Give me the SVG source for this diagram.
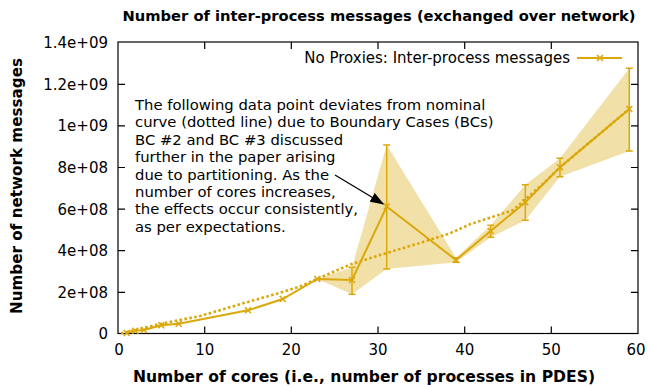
<svg xmlns="http://www.w3.org/2000/svg" width="650" height="387" viewBox="0 0 650 387">
<style>
.t{font-family:"DejaVu Sans",sans-serif;font-size:15px;fill:#000}
.b{font-family:"DejaVu Sans",sans-serif;font-size:14.7px;font-weight:bold;fill:#000}
.tick{stroke:#000;stroke-width:1.2;fill:none}
.data{stroke:#dba80a;stroke-width:2;fill:none}
.err{stroke:#dba80a;stroke-width:1.5;fill:none}
.dot{stroke:#dba80a;stroke-width:2.6;fill:none;stroke-dasharray:2.6 2.4}
</style>
<defs>
<path id="xm" d="M-3,-3L3,3M-3,3L3,-3" stroke="#dba80a" stroke-width="1.6"/>
<marker id="ah" markerWidth="14" markerHeight="10" refX="13" refY="5" orient="auto" markerUnits="userSpaceOnUse">
<path d="M0,0L14,5L0,10z" fill="#000"/>
</marker>
</defs>
<rect width="650" height="387" fill="#fff"/>
<g id="title"><text class="b" x="379" y="21" text-anchor="middle">Number of inter-process messages (exchanged over network)</text></g>
<g id="band"><polygon fill="#f2e0a9" points="317.3,279 352,267.3 386.7,145 456,257.7 490.7,225.3 525.3,184.7 560,158.3 629.3,68.3 629.3,151 560,176.7 525.3,220.3 490.7,237.3 456,262.3 386.7,269 352,294.3 317.3,279"/></g>
<g id="axes">
<rect x="118" y="42" width="520" height="291.5" class="tick"/>
<path class="tick" d="M118,292.3h7M118,250.7h7M118,209.1h7M118,167.5h7M118,125.9h7M118,84.3h7M638,292.3h-7M638,250.7h-7M638,209.1h-7M638,167.5h-7M638,125.9h-7M638,84.3h-7M204.7,333.5v-7M291.3,333.5v-7M378,333.5v-7M464.7,333.5v-7M551.3,333.5v-7M204.7,42v7M291.3,42v7M378,42v7M464.7,42v7M551.3,42v7"/>
<g class="t" text-anchor="end">
<text x="108" y="339">0</text>
<text x="108" y="297.5">2e+08</text>
<text x="108" y="256">4e+08</text>
<text x="108" y="214.5">6e+08</text>
<text x="108" y="173">8e+08</text>
<text x="108" y="131">1e+09</text>
<text x="108" y="89.5">1.2e+09</text>
<text x="108" y="48">1.4e+09</text>
</g>
<g class="t" text-anchor="middle">
<text x="119" y="355">0</text>
<text x="204.7" y="355">10</text>
<text x="291.3" y="355">20</text>
<text x="378" y="355">30</text>
<text x="464.7" y="355">40</text>
<text x="551.3" y="355">50</text>
<text x="636" y="355">60</text>
</g>
<text class="b" x="364" y="382" text-anchor="middle" style="font-size:15.6px">Number of cores (i.e., number of processes in PDES)</text>
<text class="b" transform="translate(22,186) rotate(-90)" text-anchor="middle" style="font-size:15.2px">Number of network messages</text>
</g>
<g id="connectors">
<polyline class="dot" points="121,333.5 160,324 200,316 243.3,303.3 280,292.7 300,286.5 330,273.3 351.7,264 380,255 420,243 450,233.3 470,224.3 513.3,210 541.7,185 560,167.3 629.3,109"/>
<polyline class="data" points="126.7,333 135.3,330.7 144,330 161.3,325.3 178.7,323.7 248,310.3 282.7,299 317.3,279 352,280 386.7,206.5 456,260 490.7,231 525.3,202.3 560,167.3 629.3,109"/>
<path class="err" d="M352,267.3V294.3M348.5,267.3h7M348.5,294.3h7M386.7,145V269M383.2,145h7M383.2,269h7M456,257.7V262.3M452.5,257.7h7M452.5,262.3h7M490.7,225.3V237.3M487.2,225.3h7M487.2,237.3h7M525.3,184.7V220.3M521.8,184.7h7M521.8,220.3h7M560,158.3V176.7M556.5,158.3h7M556.5,176.7h7M629.3,68.3V151M625.8,68.3h7M625.8,151h7"/>
<g id="markers">
<use href="#xm" x="126.7" y="333"/><use href="#xm" x="135.3" y="330.7"/><use href="#xm" x="144" y="330"/><use href="#xm" x="161.3" y="325.3"/><use href="#xm" x="178.7" y="323.7"/><use href="#xm" x="248" y="310.3"/><use href="#xm" x="282.7" y="299"/><use href="#xm" x="317.3" y="279"/><use href="#xm" x="352" y="280"/><use href="#xm" x="386.7" y="206.5"/><use href="#xm" x="456" y="260"/><use href="#xm" x="490.7" y="231"/><use href="#xm" x="525.3" y="202.3"/><use href="#xm" x="560" y="167.3"/><use href="#xm" x="629.3" y="109"/>
</g>
<line x1="335" y1="175" x2="383.3" y2="204" stroke="#000" stroke-width="1.3" marker-end="url(#ah)"/>
</g>
<g id="legend">
<text class="t" x="570" y="63" text-anchor="end">No Proxies: Inter-process messages</text>
<line x1="577" y1="58" x2="622" y2="58" class="data"/>
<use href="#xm" x="600" y="58"/>
</g>
<g id="annotation" class="t" style="font-size:14.8px">
<text x="135" y="110">The following data point deviates from nominal</text>
<text x="135" y="127.4">curve (dotted line) due to Boundary Cases (BCs)</text>
<text x="135" y="144.8">BC #2 and BC #3 discussed</text>
<text x="135" y="162.2">further in the paper arising</text>
<text x="135" y="179.6">due to partitioning. As the</text>
<text x="135" y="197">number of cores increases,</text>
<text x="135" y="214.4">the effects occur consistently,</text>
<text x="135" y="231.8">as per expectations.</text>
</g>
</svg>
